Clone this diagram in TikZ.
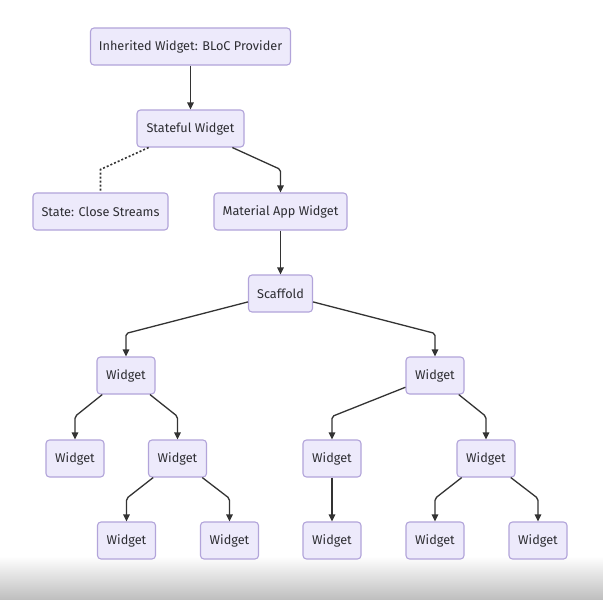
\documentclass[tikz,border=0pt]{standalone}
\usepackage{fontspec}
\setmainfont{Fira Sans}
\usetikzlibrary{arrows.meta,calc}
\definecolor{boxfill}{RGB}{237,234,251}
\definecolor{boxline}{RGB}{178,164,218}
\definecolor{edgecol}{RGB}{51,51,51}
\definecolor{txt}{RGB}{45,45,50}
\definecolor{barcol}{RGB}{190,190,190}
\tikzset{
  box/.style={draw=boxline, fill=boxfill, line width=1.1pt, rounded corners=3.5pt,
    minimum height=37pt, inner sep=0pt, text=txt, font=\fontsize{12.7}{14}\selectfont},
  edge/.style={draw=edgecol, line width=1.3pt, rounded corners=2pt,
    -{Triangle[length=7pt,width=6.5pt]}},
  dotedge/.style={draw=edgecol, line width=1.6pt, dash pattern=on 2pt off 2pt}
}
\begin{document}
\begin{tikzpicture}[x=1pt,y=-1pt]
\useasboundingbox (0,0) rectangle (603,600);
\fill[white] (0,0) rectangle (603,600);
\shade[top color=white, bottom color=barcol] (0,556) rectangle (603,600);

\node[box, minimum width=200pt] (A) at (190.5,46.5) {Inherited Widget: BLoC Provider};
\node[box, minimum width=107pt] (B) at (190.5,128.5) {Stateful Widget};
\node[box, minimum width=135pt] (C) at (100.5,211.5) {State: Close Streams};
\node[box, minimum width=133pt] (D) at (280.5,211.5) {Material App Widget};
\node[box, minimum width=64pt] (E) at (280.5,293.5) {Scaffold};
\node[box, minimum width=58pt] (F) at (126,375.5) {Widget};
\node[box, minimum width=58pt] (G) at (435,375.5) {Widget};
\node[box, minimum width=58pt] (H) at (75,458.5) {Widget};
\node[box, minimum width=58pt] (I) at (177.5,458.5) {Widget};
\node[box, minimum width=58pt] (J) at (332,458.5) {Widget};
\node[box, minimum width=58pt] (K) at (486,458.5) {Widget};
\node[box, minimum width=58pt] (L) at (126.5,540.5) {Widget};
\node[box, minimum width=58pt] (M) at (229.5,540.5) {Widget};
\node[box, minimum width=58pt] (N) at (332,540.5) {Widget};
\node[box, minimum width=58pt] (O) at (435,540.5) {Widget};
\node[box, minimum width=58pt] (P) at (538,540.5) {Widget};

\draw[edge] (A) -- (B);
\draw[dotedge] (B) -- ($(C.north)+(0,-23)$) -- (C.north);
\draw[edge] (B) -- ($(D.north)+(0,-23)$) -- (D.north);
\draw[edge] (D) -- (E);
\draw[edge] (E) -- ($(F.north)+(0,-23)$) -- (F.north);
\draw[edge] (E) -- ($(G.north)+(0,-23)$) -- (G.north);
\draw[edge] (F) -- ($(H.north)+(0,-23)$) -- (H.north);
\draw[edge] (F) -- ($(I.north)+(0,-23)$) -- (I.north);
\draw[edge] (G) -- ($(J.north)+(0,-23)$) -- (J.north);
\draw[edge] (G) -- ($(K.north)+(0,-23)$) -- (K.north);
\draw[edge] (I) -- ($(L.north)+(0,-23)$) -- (L.north);
\draw[edge] (I) -- ($(M.north)+(0,-23)$) -- (M.north);
\draw[edge] (J) -- (N);
\draw[edge] (K) -- ($(O.north)+(0,-23)$) -- (O.north);
\draw[edge] (K) -- ($(P.north)+(0,-23)$) -- (P.north);
\end{tikzpicture}
\end{document}
